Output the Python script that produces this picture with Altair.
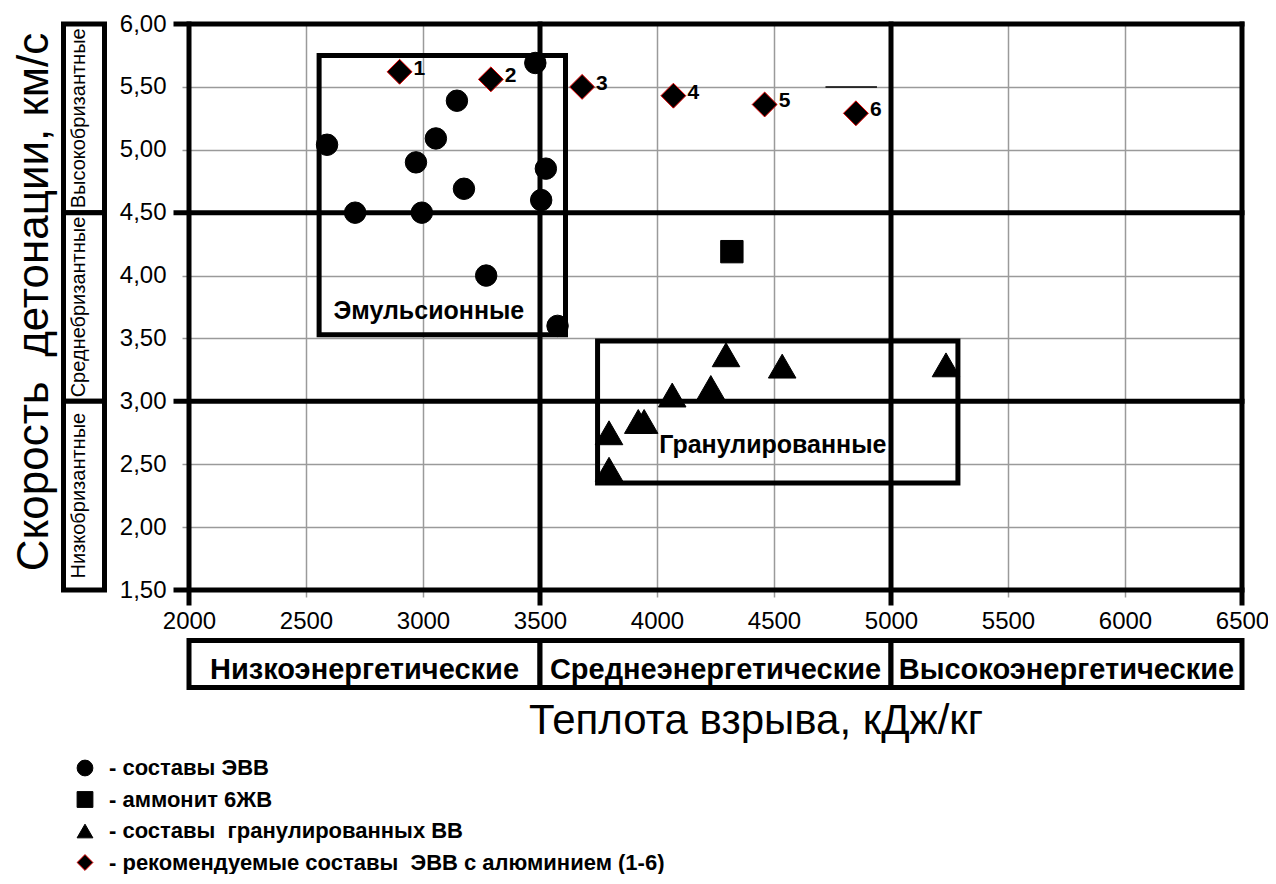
import altair as alt
import pandas as pd

FONT = "Liberation Sans, Arial, sans-serif"
W, H = 1053, 566

# ---- data ----
evv_q = [2590, 2710, 2970, 2995, 3055, 3145, 3175, 3270, 3480, 3525, 3505, 3575]
evv_v = [5.04, 4.50, 4.90, 4.50, 5.09, 5.39, 4.69, 4.00, 5.69, 4.85, 4.60, 3.60]

amm_q = [4320]
amm_v = [4.19]

gran_q = [3795, 3795, 3920, 3945, 4065, 4230, 4295, 4535, 5235]
gran_v = [2.46, 2.75, 2.84, 2.84, 3.05, 3.11, 3.37, 3.28, 3.29]

al_q = [2900, 3290, 3680, 4070, 4460, 4850]
al_v = [5.62, 5.56, 5.50, 5.43, 5.36, 5.29]
al_lbl = ["1", "2", "3", "4", "5", "6"]

types = [
    "- составы ЭВВ",
    "- аммонит 6ЖВ",
    "- составы\u00a0 гранулированных ВВ",
    "- рекомендуемые составы\u00a0 ЭВВ с алюминием (1-6)",
]
shapes = ["circle", "square", "triangle-up", "diamond"]
strokes = ["black", "black", "black", "#e00000"]

x_ticks = [2000, 2500, 3000, 3500, 4000, 4500, 5000, 5500, 6000, 6500]
y_ticks = [1.5, 2.0, 2.5, 3.0, 3.5, 4.0, 4.5, 5.0, 5.5, 6.0]
thick_q = [2000, 3500, 5000, 6500]
thick_v = [1.5, 3.0, 4.5, 6.0]

group_lbl = ["Эмульсионные", "Гранулированные"]
group_q1 = [2556, 3746]
group_q2 = [3609, 5286]
group_v1 = [5.75, 3.48]
group_v2 = [3.53, 2.35]
group_lbl_q = [3025, 4495]
group_lbl_v = [3.72, 2.65]

energy_lbl = ["Низкоэнергетические", "Среднеэнергетические", "Высокоэнергетические"]
energy_from = [2000, 3500, 5000]
energy_to = [3500, 5000, 6500]

bris_lbl = ["Высокобризантные", "Среднебризантные", "Низкобризантные"]
bris_from = [6.0, 4.5, 3.0]
bris_to = [4.5, 3.0, 1.5]

seg_q = [4720]
seg_q2 = [4940]
seg_v = [5.50]

x_title = "Теплота взрыва, кДж/кг"
y_title = "Скорость\u00a0 детонации, км/с"

# ---- scales / axes ----
xs = alt.Scale(domain=[2000, 6500], nice=False, zero=False)
ys = alt.Scale(domain=[1.5, 6.0], nice=False, zero=False)

xaxis = alt.Axis(values=x_ticks, format="d", grid=True, gridColor="#9a9a9a", gridWidth=1.5,
                 domain=False, tickColor="#9a9a9a", tickSize=7, tickWidth=1.5,
                 labelFontSize=24, labelFont=FONT, labelColor="black", labelPadding=12,
                 labelFlush=False, labelOverlap=False, title=None)
yaxis = alt.Axis(values=y_ticks, labelExpr="replace(format(datum.value, '.2f'), '.', ',')",
                 grid=True, gridColor="#9a9a9a", gridWidth=1.5,
                 domain=False, tickColor="#9a9a9a", tickSize=7, tickWidth=1.5,
                 labelFontSize=24, labelFont=FONT, labelColor="black", labelPadding=16,
                 labelFlush=False, labelOverlap=False, title=None)


def X(f):
    return alt.X(f, type="quantitative", scale=xs, axis=xaxis)


def Y(f):
    return alt.Y(f, type="quantitative", scale=ys, axis=yaxis)


legend = alt.Legend(orient="none", legendX=-115, legendY=733, title=None, symbolSize=250,
                    symbolFillColor="black", symbolStrokeWidth=1, labelFontSize=22,
                    labelFontWeight="bold", labelFont=FONT, labelColor="black",
                    rowPadding=9.5, labelOffset=13, padding=0, labelLimit=800)
shape_enc = alt.Shape("type:N", scale=alt.Scale(domain=types, range=shapes), legend=legend)
stroke_enc = alt.Stroke("type:N", scale=alt.Scale(domain=types, range=strokes), legend=legend)

# ---- layers ----
grid_df = pd.DataFrame({"q": x_ticks, "v": y_ticks})
base_grid = alt.Chart(grid_df).mark_point(opacity=0).encode(x=X("q"), y=Y("v"))

vlines = alt.Chart(pd.DataFrame({"q": thick_q})).mark_rule(
    color="black", strokeWidth=5, strokeCap="square").encode(
    x=X("q"), y=alt.value(0), y2=alt.value(579))
hlines = alt.Chart(pd.DataFrame({"v": thick_v})).mark_rule(
    color="black", strokeWidth=5, strokeCap="square").encode(
    y=Y("v"), x=alt.value(-13), x2=alt.value(W))

seg = alt.Chart(pd.DataFrame({"q": seg_q, "q2": seg_q2, "v": seg_v})).mark_rule(
    color="black", strokeWidth=1.5).encode(x=X("q"), x2="q2", y=Y("v"))

groups_df = pd.DataFrame({"lbl": group_lbl, "q1": group_q1, "q2": group_q2,
                          "v1": group_v1, "v2": group_v2,
                          "lq": group_lbl_q, "lv": group_lbl_v})
group_boxes = alt.Chart(groups_df).mark_rect(
    fillOpacity=0, stroke="black", strokeWidth=5).encode(
    x=X("q1"), x2="q2", y=Y("v1"), y2="v2")
group_text = alt.Chart(groups_df).mark_text(
    font=FONT, fontSize=25, fontWeight="bold", color="black").encode(
    x=X("lq"), y=Y("lv"), text="lbl:N")

energy_df = pd.DataFrame({"lbl": energy_lbl, "a": energy_from, "b": energy_to})
energy_boxes = alt.Chart(energy_df).mark_rect(
    fill="white", stroke="black", strokeWidth=5).encode(
    x=X("a"), x2="b", y=alt.value(616.5), y2=alt.value(663.5))
energy_text = alt.Chart(energy_df).transform_calculate(
    mid="(datum.a + datum.b) / 2").mark_text(
    font=FONT, fontSize=29, fontWeight="bold", color="black").encode(
    x=X("mid"), y=alt.value(646), text="lbl:N")

bris_df = pd.DataFrame({"lbl": bris_lbl, "a": bris_from, "b": bris_to})
bris_boxes = alt.Chart(bris_df).mark_rect(
    fill="white", stroke="black", strokeWidth=5).encode(
    y=Y("a"), y2="b", x=alt.value(-125.5), x2=alt.value(-84.5))
bris_text = alt.Chart(bris_df).transform_calculate(
    mid="(datum.a + datum.b) / 2").mark_text(
    font=FONT, fontSize=20, angle=270, color="black").encode(
    y=Y("mid"), x=alt.value(-110), text="lbl:N")

evv_df = pd.DataFrame({"q": evv_q, "v": evv_v, "type": types[0]})
amm_df = pd.DataFrame({"q": amm_q, "v": amm_v, "type": types[1]})
gran_df = pd.DataFrame({"q": gran_q, "v": gran_v, "type": types[2]})
al_df = pd.DataFrame({"q": al_q, "v": al_v, "type": types[3], "lbl": al_lbl})


def pts(df, size):
    return alt.Chart(df).mark_point(filled=True, fill="black", opacity=1, strokeWidth=1,
                                    size=size).encode(
        x=X("q"), y=Y("v"), shape=shape_enc, stroke=stroke_enc)


p_evv = pts(evv_df, 460)
p_amm = pts(amm_df, 500)
p_gran = pts(gran_df, 760)
p_al = pts(al_df, 620)

al_text = alt.Chart(al_df).mark_text(
    font=FONT, fontSize=21, fontWeight="bold", color="black", align="left", dx=14, dy=-3).encode(
    x=X("q"), y=Y("v"), text="lbl:N")

xt = alt.Chart(pd.DataFrame({"t": [x_title]})).mark_text(
    font=FONT, fontSize=42, color="black").encode(
    x=alt.value(567), y=alt.value(697), text="t:N")
yt = alt.Chart(pd.DataFrame({"t": [y_title]})).mark_text(
    font=FONT, fontSize=44, color="black", angle=270).encode(
    x=alt.value(-154), y=alt.value(278), text="t:N")

chart = alt.layer(
    base_grid, group_boxes, seg, vlines, hlines,
    energy_boxes, energy_text, bris_boxes, bris_text,
    group_text, p_evv, p_amm, p_gran, p_al, al_text, xt, yt,
).properties(
    width=W, height=H,
    padding={"left": 181, "top": 16, "right": 26, "bottom": 284},
    autosize=alt.AutoSizeParams(type="none"),
).configure_view(stroke=None)

chart.save("out.html", embed_options={"renderer": "svg", "actions": False})
